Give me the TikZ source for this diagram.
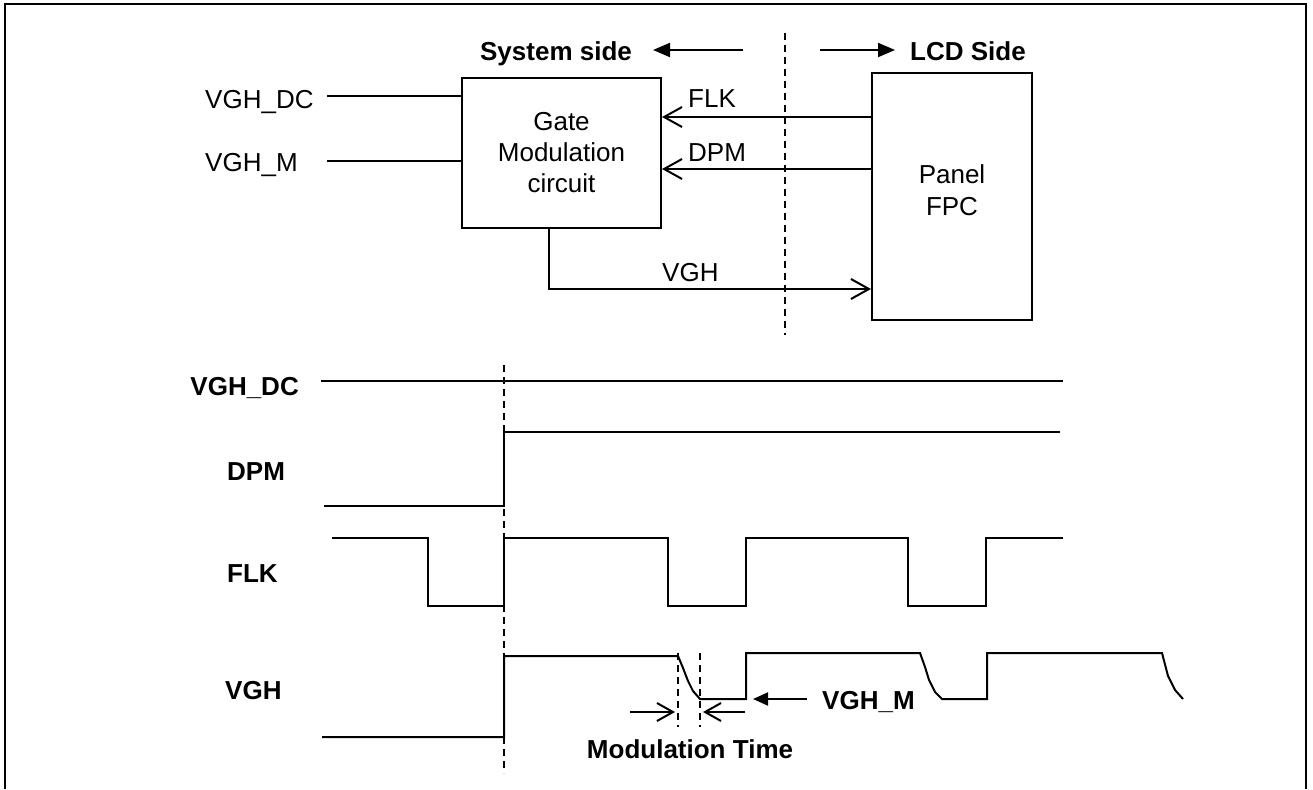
\documentclass[tikz,border=0pt]{standalone}
\usepackage{fontspec}
\setmainfont{Liberation Sans}
\usetikzlibrary{arrows.meta}
\begin{document}
\begin{tikzpicture}[x=1pt,y=-1pt,
  wire/.style={line width=2pt},
  sig/.style={line width=2pt, line join=miter},
  divider/.style={line width=1.6pt, dash pattern=on 7pt off 5pt},
  openarr/.style={-{Straight Barb[length=18pt,width=20pt,line width=2pt]}},
  fillarr/.style={-{Triangle[length=17pt,width=14pt]}},
  lbl/.style={font=\fontsize{26}{31}\selectfont, inner sep=0pt},
  blbl/.style={font=\fontsize{26}{31}\selectfont\bfseries, inner sep=0pt},
  box/.style={draw, line width=2pt, inner sep=0pt}
]
\useasboundingbox (0,0) rectangle (1313,789);
\fill[white] (0,0) rectangle (1313,789);
% frame
\draw[line width=2pt] (5,789) -- (5,4) -- (1306,4) -- (1306,789);

% ---------- block diagram ----------
\node[box, lbl, minimum width=199pt, minimum height=150pt, align=center] (gate) at (561.5,153) {Gate\\Modulation\\circuit};
\node[box, minimum width=160pt, minimum height=247pt] (panel) at (952,196.5) {};
\node[inner sep=0pt, align=center, font=\fontsize{26}{32}\selectfont] (paneltxt) at (952,190) {Panel\\FPC};

\node[blbl, anchor=base] (sys) at (556,61) {System side};
\node[blbl, anchor=base west] (lcd) at (910,61) {LCD Side};
\coordinate (sysA) at (743,50); \coordinate (sysB) at (653,50);
\coordinate (lcdA) at (820,50); \coordinate (lcdB) at (895,50);
\draw[wire, fillarr] (sysA) -- (sysB);
\draw[wire, fillarr] (lcdA) -- (lcdB);
\coordinate (divT) at (785,33); \coordinate (divB) at (785,335);
\draw[divider] (divT) -- (divB);

\node[lbl, anchor=base west] (vdctop) at (205,109) {VGH\_DC};
\node[lbl, anchor=base west] (vmtop) at (205,171) {VGH\_M};
\coordinate (dcin) at (327,96);
\coordinate (min) at (327,161);
\draw[wire] (dcin) -- (gate.west |- dcin);
\draw[wire] (min) -- (gate.west |- min);

\coordinate (flky) at (900,117);
\coordinate (dpmy) at (900,169);
\draw[wire, openarr] (panel.west |- flky) -- (gate.east |- flky);
\draw[wire, openarr] (panel.west |- dpmy) -- (gate.east |- dpmy);
\node[lbl, anchor=base west] (flktop) at (688,107) {FLK};
\node[lbl, anchor=base west] (dpmtop) at (688,161) {DPM};

\coordinate (vghc) at (549,289);
\draw[wire, openarr] (gate.south -| vghc) -- (vghc) -- (panel.west |- vghc);
\node[lbl, anchor=base west] (vghtop) at (662,281) {VGH};

% ---------- timing diagram ----------
\node[blbl, anchor=base east] (tdc) at (299,395) {VGH\_DC};
\node[blbl, anchor=base west] (tdpm) at (227,480) {DPM};
\node[blbl, anchor=base west] (tflk) at (227,582) {FLK};
\node[blbl, anchor=base west] (tvgh) at (225,699) {VGH};

\draw[sig] (321,381) -- (1063,381);
\draw[sig] (324,506) -- (504,506) -- (504,432) -- (1060,432);
\draw[sig] (332,538) -- (428,538) -- (428,606) -- (504,606) -- (504,538)
  -- (668,538) -- (668,606) -- (746,606) -- (746,538)
  -- (908,538) -- (908,606) -- (986,606) -- (986,538) -- (1063,538);
\draw[sig] (322,737) -- (504,737) -- (504,656) -- (678,656)
  -- (683,668) -- (688,681) -- (693,691) -- (700,699) -- (746,699) -- (746,653)
  -- (920,653) -- (925,667) -- (929,680) -- (935,692) -- (942,699)
  -- (987,699) -- (987,653) -- (1162,653) -- (1168,676) -- (1175,690) -- (1183,699);

\coordinate (mainT) at (504,365); \coordinate (mainB) at (504,773);
\draw[divider] (mainT) -- (mainB);
\coordinate (m1T) at (678,653); \coordinate (m1B) at (678,727);
\coordinate (m2T) at (700,653); \coordinate (m2B) at (700,727);
\draw[divider] (m1T) -- (m1B);
\draw[divider] (m2T) -- (m2B);

\coordinate (ma1) at (630,712); \coordinate (mb1) at (675,712);
\coordinate (ma2) at (745,712); \coordinate (mb2) at (703,712);
\draw[wire, -{Straight Barb[length=16pt,width=18pt,line width=2pt]}] (ma1) -- (mb1);
\draw[wire, -{Straight Barb[length=16pt,width=18pt,line width=2pt]}] (ma2) -- (mb2);
\node[blbl, anchor=base] (modt) at (690,758) {Modulation Time};

\coordinate (vmA) at (807,699); \coordinate (vmB) at (753,699);
\draw[wire, -{Triangle[length=15pt,width=13pt]}] (vmA) -- (vmB);
\node[blbl, anchor=base west] (vmlbl) at (822,709) {VGH\_M};
\end{tikzpicture}
\end{document}
